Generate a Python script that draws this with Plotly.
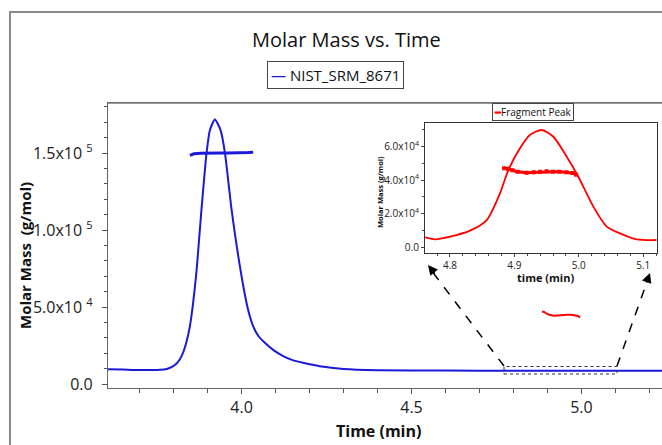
import plotly.graph_objects as go

# ---------------- data ----------------
main_time = [3.607, 3.65, 3.70, 3.76, 3.78, 3.799, 3.812, 3.8235, 3.835, 3.848, 3.866,
             3.882, 3.897, 3.907, 3.9215, 3.938, 3.951, 3.9706, 4.000, 4.019, 4.034,
             4.05, 4.0685, 4.095, 4.1224, 4.15, 4.181, 4.23, 4.30, 4.40, 4.60, 4.80,
             5.00, 5.237]
main_signal = [9600, 9400, 9100, 9300, 9800, 11600, 14000, 18100, 25000, 37600, 70000,
               113300, 150100, 165000, 171800, 165000, 150100, 113300, 70000, 48400, 37600,
               31000, 26800, 21800, 18100, 15500, 13800, 11600, 9800, 9000, 8700, 8600,
               8600, 8600]

mm_time = [3.848, 3.86, 3.88, 3.90, 3.92, 3.94, 3.96, 3.98, 4.00, 4.02, 4.034]
mm_value = [148500, 149500, 149800, 150000, 150000, 150000, 150000, 150000, 150200, 150300, 150500]

frag_time = [4.761, 4.777, 4.80, 4.831, 4.857, 4.8776, 4.8906, 4.9087, 4.924, 4.9424,
             4.9605, 4.9813, 4.9993, 5.0226, 5.0435, 5.064, 5.090, 5.121]
frag_signal = [5950, 4760, 6300, 9900, 16200, 32100, 46000, 58900, 66800, 69800,
               65800, 53900, 42000, 24200, 12300, 8300, 4760, 4340]

fmm_time = [4.884, 4.89, 4.897, 4.905, 4.919, 4.93, 4.94, 4.95, 4.96, 4.97, 4.981, 4.99, 4.996]
fmm_value = [47000, 46800, 45800, 45000, 44400, 44600, 45000, 45200, 45000, 45000, 44600, 44200, 43200]

main_xticks = [4.0, 4.5, 5.0]
main_xticktext = ["4.0", "4.5", "5.0"]
main_yticks = [0, 50000, 100000, 150000]
main_yticktext = ["0.0", "5.0x10 <sup>4</sup>", "1.0x10 <sup>5</sup>", "1.5x10 <sup>5</sup>"]
inset_xticks = [4.8, 4.9, 5.0, 5.1]
inset_xticktext = ["4.8", "4.9", "5.0", "5.1"]
inset_yticks = [0, 20000, 40000, 60000]
inset_yticktext = ["0.0", "2.0x10<sup>4</sup>", "4.0x10<sup>4</sup>", "6.0x10<sup>4</sup>"]

# ---------------- layout helpers (pixel -> paper) ----------------
W, H = 662, 445
L, R, T, B = 108, 0, 103, 57
PW, PH = W - L - R, H - T - B


def px(x):
    return (x - L) / PW


def py(y):
    return (H - B - y) / PH


FONT = "Open Sans"
BLUE = "#1a1ad8"
RED = "#ff0000"

fig = go.Figure()
fig.add_trace(go.Scatter(x=main_time, y=main_signal, mode="lines",
                         line=dict(color=BLUE, width=2, shape="spline", smoothing=0.6),
                         xaxis="x", yaxis="y", showlegend=False))
fig.add_trace(go.Scatter(x=mm_time, y=mm_value, mode="lines",
                         line=dict(color=BLUE, width=3),
                         xaxis="x", yaxis="y", showlegend=False))
fig.add_trace(go.Scatter(x=fmm_time, y=fmm_value, mode="lines",
                         line=dict(color=RED, width=2),
                         xaxis="x", yaxis="y", showlegend=False))
# inset
fig.add_trace(go.Scatter(x=frag_time, y=frag_signal, mode="lines",
                         line=dict(color=RED, width=1.8, shape="spline", smoothing=0.7),
                         xaxis="x2", yaxis="y2", showlegend=False))
fig.add_trace(go.Scatter(x=fmm_time, y=fmm_value, mode="lines+markers",
                         line=dict(color=RED, width=3),
                         marker=dict(color=RED, size=4, symbol="square"),
                         xaxis="x2", yaxis="y2", showlegend=False))

axis_common = dict(showgrid=False, zeroline=False, automargin=False)

fig.update_layout(
    width=W, height=H,
    margin=dict(l=L, r=R, t=T, b=B),
    paper_bgcolor="white", plot_bgcolor="white",
    font=dict(family=FONT, color="#222"),
    showlegend=False,
    xaxis=dict(**axis_common, range=[3.607, 5.237], tickmode="array",
               tickvals=main_xticks, ticktext=main_xticktext,
               ticks="outside", ticklen=5, tickcolor="#555",
               showline=True, linecolor="#666", linewidth=1.2, mirror=True,
               tickfont=dict(size=16, color="#222"),
               minor=dict(dtick=0.1, tick0=0, ticks="outside", ticklen=4, tickcolor="#555")),
    yaxis=dict(**axis_common, range=[-2600, 182500], tickmode="array",
               tickvals=main_yticks, ticktext=main_yticktext,
               ticks="outside", ticklen=5, tickcolor="#555",
               showline=True, linecolor="#666", linewidth=1.2,
               tickfont=dict(size=16, color="#222"), ticklabelstandoff=6,
               minor=dict(dtick=10000, tick0=0, ticks="outside", ticklen=3, tickcolor="#555")),
    xaxis2=dict(**axis_common, domain=[px(425), px(656.7)], anchor="y2",
                range=[4.7612, 5.121], tickmode="array",
                tickvals=inset_xticks, ticktext=inset_xticktext,
                ticks="outside", ticklen=3, tickcolor="#444",
                showline=True, linecolor="#333", linewidth=1.2, mirror=True,
                tickfont=dict(size=10, color="#222"),
                minor=dict(dtick=0.02, tick0=0, ticks="outside", ticklen=2, tickcolor="#444")),
    yaxis2=dict(**axis_common, domain=[py(253.3), py(123.3)], anchor="x2",
                range=[-3570, 73800], tickmode="array",
                tickvals=inset_yticks, ticktext=inset_yticktext,
                ticks="outside", ticklen=3, tickcolor="#444",
                showline=True, linecolor="#333", linewidth=1.2, mirror=True,
                tickfont=dict(size=10, color="#222"),
                minor=dict(dtick=10000, tick0=0, ticks="outside", ticklen=2, tickcolor="#444")),
)

shapes = []
# outer frame
shapes.append(dict(type="rect", xref="paper", yref="paper",
                   x0=px(10), x1=px(700), y0=py(500), y1=py(12),
                   line=dict(color="#8a8a8a", width=2), fillcolor="rgba(0,0,0,0)", layer="below"))
# top frame line of main plot
shapes.append(dict(type="line", xref="paper", yref="paper",
                   x0=0, x1=1, y0=1, y1=1,
                   line=dict(color="#777", width=1.5)))
# zoom box
shapes.append(dict(type="rect", xref="paper", yref="paper",
                   x0=px(504), x1=px(617), y0=py(374), y1=py(366.5),
                   line=dict(color="#333", width=1, dash="dot"), fillcolor="rgba(0,0,0,0)"))
# dashed arrow lines
shapes.append(dict(type="line", xref="paper", yref="paper",
                   x0=px(504), y0=py(366), x1=px(431), y1=py(270),
                   line=dict(color="black", width=1.5, dash="dash")))
shapes.append(dict(type="line", xref="paper", yref="paper",
                   x0=px(617), y0=py(366), x1=px(648), y1=py(279),
                   line=dict(color="black", width=1.5, dash="dash")))
fig.update_layout(shapes=shapes)

ann = []
# title
ann.append(dict(text="Molar Mass vs. Time", xref="paper", yref="paper",
                x=px(346), y=py(40), showarrow=False, xanchor="center", yanchor="middle",
                font=dict(size=20, color="#111")))
# main legend (drawn)
ann.append(dict(text=f"<span style='color:{BLUE}'>—</span> NIST_SRM_8671", xref="paper", yref="paper",
                x=px(335), y=py(75.5), showarrow=False, xanchor="center", yanchor="middle",
                font=dict(size=15, color="#111"), bordercolor="#444", borderwidth=1, borderpad=3,
                bgcolor="white"))
# inset legend
ann.append(dict(text=f"<span style='color:{RED}'><b>━</b></span>Fragment Peak", xref="paper", yref="paper",
                x=px(533), y=py(111.5), showarrow=False, xanchor="center", yanchor="middle",
                font=dict(size=10, color="#111"), bordercolor="#444", borderwidth=1, borderpad=1,
                bgcolor="white"))
# axis titles
ann.append(dict(text="<b>Time (min)</b>", xref="paper", yref="paper",
                x=px(378), y=py(431), showarrow=False, xanchor="center", yanchor="middle",
                font=dict(size=16, color="#111")))
ann.append(dict(text="<b>Molar Mass  (g/mol)</b>", xref="paper", yref="paper",
                x=px(25), y=py(256), showarrow=False, xanchor="center", yanchor="middle",
                textangle=-90, font=dict(size=15, color="#111")))
ann.append(dict(text="<b>time (min)</b>", xref="paper", yref="paper",
                x=px(545), y=py(277), showarrow=False, xanchor="center", yanchor="middle",
                font=dict(size=11, color="#111")))
ann.append(dict(text="<b>Molar Mass (g/mol)</b>", xref="paper", yref="paper",
                x=px(380), y=py(192), showarrow=False, xanchor="center", yanchor="middle",
                textangle=-90, font=dict(size=7.5, color="#111")))
# arrowheads
ann.append(dict(text="", xref="paper", yref="paper", x=px(428), y=py(265),
                ax=8, ay=10, showarrow=True, arrowhead=2, arrowsize=1.3, arrowwidth=1.5,
                arrowcolor="black"))
ann.append(dict(text="", xref="paper", yref="paper", x=px(650), y=py(273),
                ax=-4, ay=11, showarrow=True, arrowhead=2, arrowsize=1.3, arrowwidth=1.5,
                arrowcolor="black"))
fig.update_layout(annotations=ann)

fig.write_html("out.html")
